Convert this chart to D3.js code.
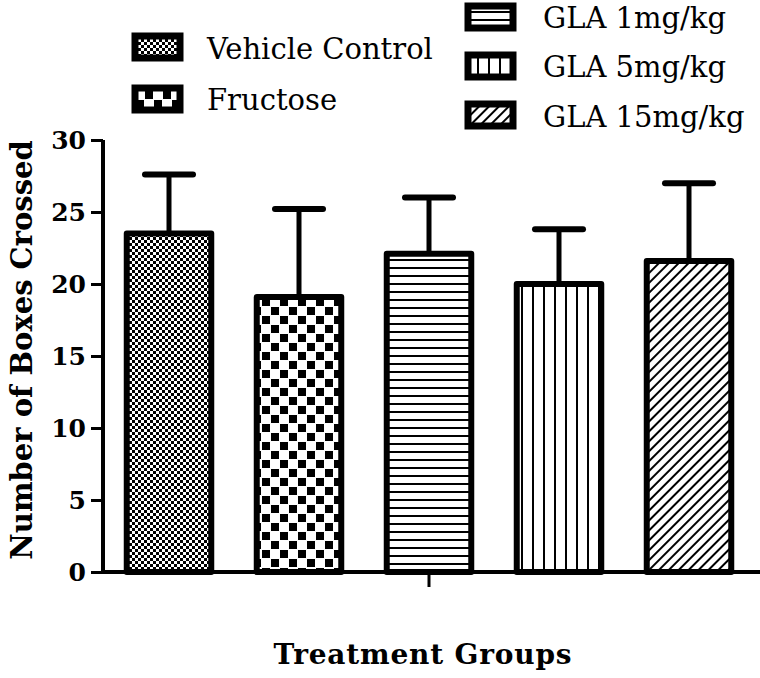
<html lang="en">
<head>
  <meta charset="UTF-8"/>
  <title>Number of Boxes Crossed</title>
  <script src="https://d3js.org/d3.v7.min.js"></script>
  <style>
    body { margin: 0; background: #fff; }
    text { font-family: "DejaVu Serif", serif; fill: #000; }
  </style>
</head>
<body>
  <svg id="chart" width="760" height="678"></svg>
<script>
  const groups = ["Vehicle Control", "Fructose", "GLA 1mg/kg", "GLA 5mg/kg", "GLA 15mg/kg"];
  const means = [23.5, 19.1, 22.1, 20.0, 21.6];
  const errors = [4.1, 6.1, 3.9, 3.8, 5.4];
  const yTicks = [0, 5, 10, 15, 20, 25, 30];
  const patternIds = ["pVehicle", "pFructose", "pGla1", "pGla5", "pGla15"];

  const svg = d3.select("#chart");
  const defs = svg.append("defs");

  // fill patterns
  const p1 = defs.append("pattern").attr("id", "pVehicle").attr("patternUnits", "userSpaceOnUse")
      .attr("width", 6).attr("height", 6);
  p1.append("rect").attr("width", 6).attr("height", 6).attr("fill", "#fff");
  p1.append("rect").attr("width", 3).attr("height", 3).attr("fill", "#000");
  p1.append("rect").attr("x", 3).attr("y", 3).attr("width", 3).attr("height", 3).attr("fill", "#000");

  const p2 = defs.append("pattern").attr("id", "pFructose").attr("patternUnits", "userSpaceOnUse")
      .attr("width", 18).attr("height", 18);
  p2.append("rect").attr("width", 18).attr("height", 18).attr("fill", "#fff");
  p2.append("rect").attr("x", 1).attr("y", 1).attr("width", 8).attr("height", 8).attr("fill", "#000");
  p2.append("rect").attr("x", 10).attr("y", 10).attr("width", 8).attr("height", 8).attr("fill", "#000");

  const p3 = defs.append("pattern").attr("id", "pGla1").attr("patternUnits", "userSpaceOnUse")
      .attr("width", 8).attr("height", 8);
  p3.append("rect").attr("width", 8).attr("height", 8).attr("fill", "#fff");
  p3.append("rect").attr("y", 3).attr("width", 8).attr("height", 2).attr("fill", "#000");

  const p4 = defs.append("pattern").attr("id", "pGla5").attr("patternUnits", "userSpaceOnUse")
      .attr("width", 11).attr("height", 11);
  p4.append("rect").attr("width", 11).attr("height", 11).attr("fill", "#fff");
  p4.append("rect").attr("x", 4).attr("width", 2).attr("height", 11).attr("fill", "#000");

  const p5 = defs.append("pattern").attr("id", "pGla15").attr("patternUnits", "userSpaceOnUse")
      .attr("width", 7).attr("height", 7).attr("patternTransform", "rotate(45)");
  p5.append("rect").attr("width", 7).attr("height", 7).attr("fill", "#fff");
  p5.append("rect").attr("x", 0).attr("width", 2).attr("height", 7).attr("fill", "#000");

  const xScale = d3.scaleBand()
      .domain(groups)
      .range([104, 754])
      .paddingInner(0.35)
      .paddingOuter(0.175);

  const yScale = d3.scaleLinear()
      .domain([0, 30])
      .range([572, 140]);

  // bars
  svg.selectAll(".bar")
    .data(groups)
    .enter()
    .append("rect")
      .attr("class", "bar")
      .attr("x", d => xScale(d))
      .attr("y", (d, i) => yScale(means[i]))
      .attr("width", xScale.bandwidth())
      .attr("height", (d, i) => yScale(0) - yScale(means[i]))
      .attr("fill", (d, i) => `url(#${patternIds[i]})`)
      .attr("stroke", "#000")
      .attr("stroke-width", 6)
      .attr("stroke-linejoin", "round");

  // error bars (upper only)
  const eb = svg.selectAll(".err").data(groups).enter().append("g").attr("class", "err");
  eb.append("line")
      .attr("x1", d => xScale(d) + xScale.bandwidth() / 2)
      .attr("x2", d => xScale(d) + xScale.bandwidth() / 2)
      .attr("y1", (d, i) => yScale(means[i]))
      .attr("y2", (d, i) => yScale(means[i] + errors[i]))
      .attr("stroke", "#000").attr("stroke-width", 5);
  eb.append("line")
      .attr("x1", d => xScale(d) + xScale.bandwidth() / 2 - 24)
      .attr("x2", d => xScale(d) + xScale.bandwidth() / 2 + 24)
      .attr("y1", (d, i) => yScale(means[i] + errors[i]))
      .attr("y2", (d, i) => yScale(means[i] + errors[i]))
      .attr("stroke", "#000").attr("stroke-width", 6).attr("stroke-linecap", "round");

  // y axis
  const yAxis = svg.append("g")
      .attr("transform", "translate(103,0)")
      .call(d3.axisLeft(yScale).tickValues(yTicks).tickSize(12).tickPadding(5));
  yAxis.attr("font-family", null);
  yAxis.select(".domain").attr("stroke", "#000").attr("stroke-width", 4)
      .attr("d", `M0,${yScale(30)}V${yScale(0)}`);
  yAxis.selectAll(".tick line").attr("stroke", "#000").attr("stroke-width", 3);
  yAxis.selectAll(".tick text")
      .attr("font-size", 25).attr("font-weight", "bold").attr("fill", "#000");

  // x axis
  svg.append("line")
      .attr("x1", 101).attr("x2", 760)
      .attr("y1", yScale(0)).attr("y2", yScale(0))
      .attr("stroke", "#000").attr("stroke-width", 4);
  svg.append("line")
      .attr("x1", 429).attr("x2", 429)
      .attr("y1", yScale(0)).attr("y2", yScale(0) + 15)
      .attr("stroke", "#000").attr("stroke-width", 3);

  // axis titles
  svg.append("text")
      .attr("transform", "translate(32,350) rotate(-90)")
      .attr("text-anchor", "middle")
      .attr("font-size", 29).attr("font-weight", "bold")
      .text("Number of Boxes Crossed");

  svg.append("text")
      .attr("x", 423).attr("y", 664)
      .attr("text-anchor", "middle")
      .attr("font-size", 28).attr("font-weight", "bold")
      .attr("letter-spacing", 0.8)
      .text("Treatment Groups");

  // legend
  const legendPos = [
    { x: 135, y: 36, tx: 207, ty: 59 },
    { x: 135, y: 88, tx: 207, ty: 110 },
    { x: 468, y: 6, tx: 543, ty: 28 },
    { x: 468, y: 55, tx: 543, ty: 77 },
    { x: 468, y: 104, tx: 543, ty: 127 }
  ];
  const legend = svg.selectAll(".legend").data(groups).enter().append("g").attr("class", "legend");
  legend.append("rect")
      .attr("x", (d, i) => legendPos[i].x)
      .attr("y", (d, i) => legendPos[i].y)
      .attr("width", 45).attr("height", 22)
      .attr("fill", (d, i) => `url(#${patternIds[i]})`)
      .attr("stroke", "#000").attr("stroke-width", 7);
  legend.append("text")
      .attr("x", (d, i) => legendPos[i].tx)
      .attr("y", (d, i) => legendPos[i].ty)
      .attr("font-size", 29)
      .text(d => d);
</script>
</body>
</html>
